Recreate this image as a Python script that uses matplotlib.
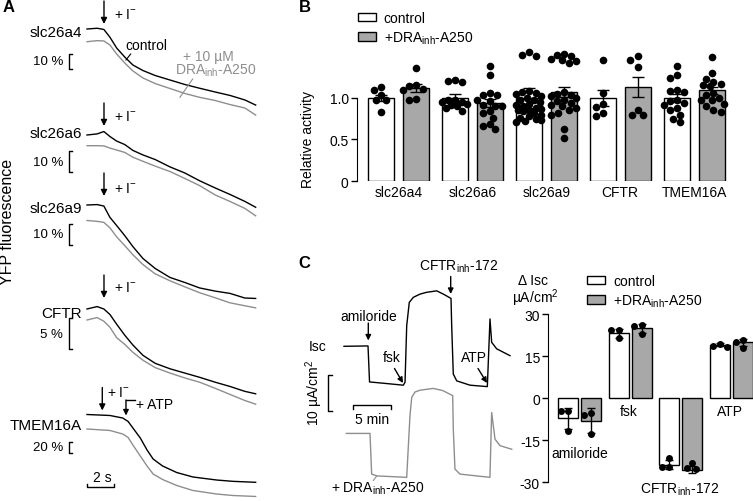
import matplotlib
matplotlib.use('Agg')
import numpy as np
import matplotlib.pyplot as plt
from matplotlib.patches import Patch

plt.rcParams['font.family'] = 'Liberation Sans'
plt.rcParams['mathtext.fontset'] = 'custom'
plt.rcParams['mathtext.rm'] = 'Liberation Sans'
plt.rcParams['mathtext.it'] = 'Liberation Sans:italic'
plt.rcParams['mathtext.bf'] = 'Liberation Sans:bold'
plt.rcParams['axes.unicode_minus'] = False

# ---- panel A: YFP quenching traces (change in fluorescence, %) ----
t_a = [0, 0.75, 1.25, 1.7, 2.2, 2.8, 3.4, 4.15, 5.05, 6.15, 7.25, 8.35, 9.5, 10.6, 11.7, 12.5]
a4_ctrl = [0, 0.5, -0.3, -5.5, -12.7, -18.7, -24, -27.7, -31, -34, -37, -39.5, -42, -44.3, -47.3, -50.7]
a4_dra = [0, 0.7, 0.5, -2.2, -8.2, -14.2, -19.5, -24.2, -27.9, -31.2, -34.5, -37.1, -39.2, -41.9, -44.2, -48.9]
a6_ctrl = [0, 0.5, 1.6, -0.7, -2.8, -4.4, -7.1, -9.2, -11.3, -14.7, -17.5, -21.1, -24.4, -27.4, -30.6, -33.3]
a6_dra = [0, 0, -0.1, -1.1, -2, -3.1, -5.3, -7.2, -9.4, -11.9, -15.1, -18.4, -22.7, -25.7, -28.9, -32.3]
a9_ctrl = [0, 0.2, -0.5, -5.9, -9.8, -14.6, -19.8, -25.5, -30.2, -34.5, -36.9, -39.5, -41, -42.1, -44.3, -44.5]
a9_dra = [0, -0.4, -0.9, -3.5, -7.8, -12, -16.3, -21, -25.4, -28.7, -31.6, -34.4, -36.8, -39.2, -40.6, -41.6]
cftr_ctrl = [0, 0.4, 0, -0.9, -2.5, -4.3, -5.9, -7.6, -8.9, -9.8, -10.5, -11.2, -12, -12.7, -13.5, -13.9]
cftr_dra = [0, 0.4, -0.2, -1.2, -2.9, -4, -5.3, -6.6, -7.8, -8.7, -9.5, -10.2, -11.2, -12.2, -13.2, -13.8]
t_tmem = [0, 1.7, 2.65, 3.05, 3.4, 3.95, 4.45, 4.9, 5.6, 6.65, 7.85, 9.6, 10.8, 12.5]
tmem_ctrl = [0, -1.8, -6.4, -12.7, -24.5, -42.7, -64.5, -80.9, -93.6, -105.5, -113.6, -119.1, -121.5, -123.3]
tmem_dra = [0, -2.7, -9.1, -15.5, -29.1, -49.1, -67.3, -81.8, -91.8, -102.7, -111.8, -118.2, -120.9, -122.7]

rows = ['slc26a4', 'slc26a6', 'slc26a9', 'CFTR', 'TMEM16A']
scale_pct = [10, 10, 10, 5, 20]

# ---- panel B: relative activity ----
genes = ['slc26a4', 'slc26a6', 'slc26a9', 'CFTR', 'TMEM16A']
b_ctrl_mean = [1.0, 1.0, 1.0, 1.0, 1.0]
b_ctrl_sem = [0.04, 0.05, 0.12, 0.10, 0.05]
b_dra_mean = [1.12, 0.94, 1.07, 1.13, 1.09]
b_dra_sem = [0.05, 0.05, 0.06, 0.12, 0.04]
b_ctrl_pts = [
    [1.13, 1.10, 1.04, 0.98, 0.97, 0.83],
    [1.22, 1.19, 1.20, 0.95, 0.98, 0.97, 0.92, 0.88, 0.84, 0.93, 0.90, 0.95],
    [1.52, 1.55, 1.50, 1.08, 1.06, 1.07, 1.05, 1.02, 1.00, 0.98, 0.97, 0.95, 0.93, 0.92,
     0.90, 0.88, 0.87, 0.85, 0.84, 0.82, 0.80, 0.78, 0.76, 0.75, 0.73, 0.72, 0.71, 0.86],
    [1.46, 1.06, 0.93, 0.89, 0.82, 0.78],
    [1.38, 1.28, 1.24, 1.09, 1.08, 1.07, 0.96, 0.94, 0.92, 0.88, 0.86, 0.80, 0.75, 0.71, 0.98],
]
b_dra_pts = [
    [1.36, 1.15, 1.14, 1.11, 1.10, 0.99, 0.97],
    [1.38, 1.28, 1.06, 1.03, 1.04, 0.98, 0.96, 0.92, 0.90, 0.90, 0.84, 0.82, 0.76, 0.68, 0.62, 0.66],
    [1.53, 1.52, 1.50, 1.47, 1.45, 1.44, 1.42, 1.07, 1.05, 1.04, 1.02, 1.00, 0.98, 0.96,
     0.94, 0.92, 0.90, 0.88, 0.85, 0.82, 0.80, 0.63, 0.52],
    [1.45, 1.50, 1.37, 0.86, 0.79, 0.79],
    [1.49, 1.30, 1.23, 1.17, 1.14, 1.15, 1.19, 1.06, 1.04, 1.00, 0.97, 0.97, 0.93, 0.90, 0.83, 0.86],
]

# ---- panel C: Isc traces (min, uA/cm2) ----
isc_t_ctrl = [0, 3.16, 3.36, 5.39, 7.8, 8.03, 8.25, 8.59, 9.12, 10.0, 10.88, 12.2, 13.07, 14.08,
              14.17, 14.38, 14.83, 16.58, 18.86, 19.21, 19.43, 20.09, 21.84]
isc_ctrl = [10.0, 10.1, 0.1, -0.3, -0.8, 0.0, 15.7, 22.2, 23.6, 24.5, 25.0, 25.4, 24.5, 23.3,
            15.7, 2.3, 0.4, -0.8, -1.2, 17.6, 11.1, 9.3, 7.4]
isc_t_dra = [0.3, 3.42, 3.64, 4.3, 8.25, 8.68, 8.91, 9.34, 10.0, 11.75, 13.0, 14.3, 14.38, 14.6,
             15.26, 19.2, 19.43, 19.87, 20.53, 22.07]
isc_dra = [11.3, 11.3, 0.0, -0.5, -0.9, 16.2, 21.3, 22.8, 23.3, 23.8, 23.2, 21.8, 12.5, 1.4,
           0.0, -0.9, 17.1, 9.7, 7.9, 6.9]

c_groups = ['amiloride', 'fsk', 'CFTR$_{\\rm inh}$-172', 'ATP']
c_ctrl_mean = [-7.1, 23.3, -23.8, 19.2]
c_ctrl_sd = [3.7, 1.6, 1.6, 0.5]
c_dra_mean = [-8.0, 25.0, -25.5, 20.0]
c_dra_sd = [4.4, 1.5, 1.2, 1.2]
c_ctrl_pts = [[-4.4, -4.4, -11.6], [24.5, 24.5, 21.4], [-21.4, -24.6, -24.6], [19.4, 18.4, 18.8]]
c_dra_pts = [[-5.2, -6.0, -12.8], [26.2, 25.7, 23.0], [-23.1, -25.2, -25.0], [20.9, 20.2, 18.0]]

GRAY_LINE = '#8e8e8e'
GRAY_BAR = '#a8a8a8'
W, H = 753, 502

fig = plt.figure(figsize=(W / 100, H / 100), dpi=100)


def px_axes(x0, y0, x1, y1):
    # axes from pixel box (y measured from top)
    ax = fig.add_axes([x0 / W, 1 - y1 / H, (x1 - x0) / W, (y1 - y0) / H])
    ax.patch.set_visible(False)
    return ax


def swarm(vals, ppu, max_px, d=7.2):
    # simple beeswarm offsets in pixels
    cands = sorted([k * 1.8 for k in range(-8, 9)], key=abs)
    order = sorted(range(len(vals)), key=lambda k: -vals[k])
    placed = []
    offs = [0.0] * len(vals)
    for k in order:
        y = vals[k] * ppu
        best, best_d = 0.0, -1
        for c in cands:
            if abs(c) > max_px:
                continue
            md = min([np.hypot(c - px, y - py) for px, py in placed] + [99])
            if md >= d:
                best = c
                break
            if md > best_d:
                best, best_d = c, md
        offs[k] = best
        placed.append((best, y))
    return offs


# ================= panel A =================
traces = [(t_a, a4_ctrl, a4_dra), (t_a, a6_ctrl, a6_dra), (t_a, a9_ctrl, a9_dra),
          (t_a, cftr_ctrl, cftr_dra), (t_tmem, tmem_ctrl, tmem_dra)]
row_y0 = [30, 136, 206, 310, 415.5]
pct_px = [1.5, 2.17, 2.1, 6.1, 0.55]
gray_gap = [12.7, 10.7, 15.5, 11, 14.5]
scale_off = [32, 26.5, 29, 24.5, 33]
label_off = [3, -1.5, 3, 4, 10.5]
arrow_tip = [5, 9, 9, 11, 4]
itext_off = [15, 19, 17, 22, 22]
arrow_x = [104, 104, 104, 104, 102.3]
itext_x = [114, 114, 114, 114, 107.5]


def xs(px):
    return (px - 87) / 13.5


for i, name in enumerate(rows):
    y0, s = row_y0[i], pct_px[i]
    ax = px_axes(87, y0 - 40, 257, y0 + 100)
    ax.set_xlim(0, 12.6)
    ax.set_ylim(-100 / s, 40 / s)
    ax.axis('off')
    t, ctrl, dra = traces[i]
    ax.plot(t, ctrl, color='k', lw=1.0, clip_on=False)
    ax.plot(t, np.array(dra) - gray_gap[i] / s, color=GRAY_LINE, lw=1.0, clip_on=False)

    def dy(px):
        return -px / s

    ax.text(xs(82), dy(label_off[i]), name, ha='right', va='center', fontsize=11)
    yc = dy(scale_off[i])
    ax.text(xs(63), yc, f'{scale_pct[i]} %', ha='right', va='center', fontsize=9.5)
    h = scale_pct[i] / 2
    ax.plot([xs(72), xs(68.5), xs(68.5), xs(72)], [yc + h, yc + h, yc - h, yc - h],
            color='k', lw=1.0, clip_on=False)
    ax.annotate('', xy=(xs(arrow_x[i]), dy(-arrow_tip[i])),
                xytext=(xs(arrow_x[i]), dy(-arrow_tip[i] - 23)),
                arrowprops=dict(arrowstyle='-|>', color='k', lw=1.0, mutation_scale=9,
                                shrinkA=0, shrinkB=0), annotation_clip=False)
    ax.text(xs(itext_x[i]), dy(-itext_off[i]), '+ I$^{-}$', ha='left', va='center', fontsize=10)

    if i == 0:
        ax.text(xs(125), dy(16), 'control', ha='left', va='center', fontsize=10)
        ax.plot([xs(130.7), xs(126)], [dy(25), dy(31)], color='k', lw=0.8, clip_on=False)
        ax.text(xs(208), dy(26.5), '+ 10 µM', ha='center', va='center', fontsize=10,
                color=GRAY_LINE)
        ax.text(xs(216), dy(41), 'DRA$_{\\rm inh}$-A250', ha='center', va='center',
                fontsize=10, color=GRAY_LINE)
        ax.plot([xs(192.7), xs(180)], [dy(50), dy(68.3)], color=GRAY_LINE, lw=0.8,
                clip_on=False)
    if i == 4:
        ax.annotate('', xy=(xs(126), dy(1)), xytext=(xs(126), dy(-14.5)),
                    arrowprops=dict(arrowstyle='-|>', color='k', lw=1.0, mutation_scale=8,
                                    shrinkA=0, shrinkB=0), annotation_clip=False)
        ax.plot([xs(126), xs(135)], [dy(-14.5), dy(-14.5)], color='k', lw=1.0, clip_on=False)
        ax.text(xs(136.5), dy(-10.5), '+ ATP', ha='left', va='center', fontsize=10)
        # 2 s scale bar
        yb = dy(72)
        ax.plot([0, 0, 2, 2], [yb + 3 / s, yb, yb, yb + 3 / s], color='k', lw=1.0,
                clip_on=False)
        ax.text(1.1, dy(62.5), '2 s', ha='center', va='center', fontsize=10)

fig.text(3 / W, 1 - 8 / H, 'A', fontsize=12, fontweight='bold', va='center', ha='left')
fig.text(8 / W, 1 - 222 / H, 'YFP fluorescence', rotation=90, fontsize=11.5,
         ha='center', va='center')

# ================= panel B =================
axb = px_axes(357, 49, 740, 182)
axb.set_xlim(-0.56, 4.62)
axb.set_ylim(0, 1.6)
xb = np.arange(len(genes))
off_b, w_b = 0.236, 0.35
axb.bar(xb - off_b, b_ctrl_mean, w_b, color='white', edgecolor='k', lw=1.0, zorder=1)
axb.bar(xb + off_b, b_dra_mean, w_b, color=GRAY_BAR, edgecolor='k', lw=1.0, zorder=1)
axb.errorbar(xb - off_b, b_ctrl_mean, yerr=b_ctrl_sem, fmt='none', ecolor='k',
             elinewidth=1.0, capsize=4.5, capthick=1.0, zorder=2)
axb.errorbar(xb + off_b, b_dra_mean, yerr=b_dra_sem, fmt='none', ecolor='k',
             elinewidth=1.0, capsize=4.5, capthick=1.0, zorder=2)
for g in range(len(genes)):
    for pts, sign in ((b_ctrl_pts[g], -1), (b_dra_pts[g], 1)):
        o = swarm(pts, 83.0, 13)
        axb.plot(g + sign * off_b + np.array(o) / 74.0, pts, 'o', color='k', ms=5.5,
                 mec='none', zorder=3, clip_on=False)
for sp in ('top', 'right', 'bottom'):
    axb.spines[sp].set_visible(False)
axb.spines['left'].set_bounds(0, 1.0)
axb.set_yticks([0, 0.5, 1.0])
axb.set_yticklabels(['0', '0.5', '1.0'])
axb.set_xticks(xb)
axb.set_xticklabels(genes)
axb.tick_params(axis='y', length=4, width=1, labelsize=10, pad=2)
axb.tick_params(axis='x', length=0, labelsize=10, pad=3)
axb.set_ylabel('Relative activity', fontsize=10, labelpad=6)
axb.yaxis.set_label_coords(-42 / 383, 0.32)
legb = axb.legend([Patch(facecolor='white', edgecolor='k', lw=1.0),
                   Patch(facecolor=GRAY_BAR, edgecolor='k', lw=1.0)],
                  ['control', '+DRA$_{\\rm inh}$-A250'], loc='upper left',
                  bbox_to_anchor=(357.5 / W, 1 - 12 / H), bbox_transform=fig.transFigure,
                  frameon=False, fontsize=10, handlelength=1.33, handleheight=0.58,
                  handletextpad=0.55, labelspacing=0.3, borderpad=0, borderaxespad=0)
fig.text(299 / W, 1 - 8 / H, 'B', fontsize=12, fontweight='bold', va='center', ha='left')

# ================= panel C traces =================
axt = px_axes(300, 255, 515, 500)
axt.set_xlim((300 - 344) / 7.6, (515 - 344) / 7.6)
axt.set_ylim((383.3 - 500) / 3.6, (383.3 - 255) / 3.6)
axt.axis('off')
axt.plot(isc_t_ctrl, isc_ctrl, color='k', lw=1.0)
axt.plot(isc_t_dra, np.array(isc_dra) - 25.5, color=GRAY_LINE, lw=1.0)


def tc(px):
    return (px - 344) / 7.6


def ic(py):
    return (383.3 - py) / 3.6


arrow_kw = dict(arrowstyle='-|>', color='k', lw=1.0, mutation_scale=8, shrinkA=0, shrinkB=0)
axt.text(tc(318), ic(347), 'Isc', ha='center', va='center', fontsize=10)
axt.text(tc(369), ic(317), 'amiloride', ha='center', va='center', fontsize=10)
axt.annotate('', xy=(tc(368.3), ic(341.5)), xytext=(tc(368.3), ic(324)), arrowprops=arrow_kw)
axt.text(tc(459), ic(266.5), 'CFTR$_{\\rm inh}$-172', ha='center', va='center', fontsize=10)
axt.annotate('', xy=(tc(450.7), ic(295)), xytext=(tc(450.7), ic(277.5)), arrowprops=arrow_kw)
axt.text(tc(391.7), ic(358), 'fsk', ha='center', va='center', fontsize=10)
axt.annotate('', xy=(tc(403), ic(384)), xytext=(tc(394.5), ic(369.5)), arrowprops=arrow_kw)
axt.text(tc(473.7), ic(358.5), 'ATP', ha='center', va='center', fontsize=10)
axt.annotate('', xy=(tc(487), ic(384)), xytext=(tc(478), ic(369.5)), arrowprops=arrow_kw)
# scale bars
axt.plot([tc(332), tc(328.3), tc(328.3), tc(332)], [ic(375.7), ic(375.7), ic(411.7), ic(411.7)],
         color='k', lw=1.0)
axt.text(tc(314), ic(393), '10 µA/cm$^2$', rotation=90, ha='center', va='center', fontsize=10)
axt.plot([tc(352.7), tc(352.7), tc(390.7), tc(390.7)], [ic(409.5), ic(406), ic(406), ic(409.5)],
         color='k', lw=1.0)
axt.text(tc(371.7), ic(420), '5 min', ha='center', va='center', fontsize=10)
axt.text(tc(378), ic(489), '+ DRA$_{\\rm inh}$-A250', ha='center', va='center', fontsize=10)
axt.plot([tc(373.3), tc(376.7)], [ic(481.5), ic(477)], color=GRAY_LINE, lw=0.8)
fig.text(298 / W, 1 - 264 / H, 'C', fontsize=12, fontweight='bold', va='center', ha='left')

# ================= panel C bars =================
axc = px_axes(548.3, 309.7, 753, 488.9)
axc.set_xlim(-0.62, 3.43)
axc.set_ylim(-32, 32)
xc = np.arange(len(c_groups))
off_c, w_c = 0.228, 0.40
axc.bar(xc - off_c, c_ctrl_mean, w_c, color='white', edgecolor='k', lw=1.0, zorder=1)
axc.bar(xc + off_c, c_dra_mean, w_c, color=GRAY_BAR, edgecolor='k', lw=1.0, zorder=1)
axc.errorbar(xc - off_c, c_ctrl_mean, yerr=c_ctrl_sd, fmt='none', ecolor='k',
             elinewidth=1.0, capsize=3, capthick=1.0, zorder=2)
axc.errorbar(xc + off_c, c_dra_mean, yerr=c_dra_sd, fmt='none', ecolor='k',
             elinewidth=1.0, capsize=3, capthick=1.0, zorder=2)
for g in range(len(c_groups)):
    for pts, sign in ((c_ctrl_pts[g], -1), (c_dra_pts[g], 1)):
        o = swarm(pts, 2.8, 8, d=6.8)
        axc.plot(g + sign * off_c + np.array(o) / 50.5, pts, 'o', color='k', ms=5,
                 mec='none', zorder=3, clip_on=False)
for sp in ('top', 'right', 'bottom'):
    axc.spines[sp].set_visible(False)
axc.spines['left'].set_bounds(-30, 30)
axc.set_yticks([-30, -15, 0, 15, 30])
axc.set_xticks([])
axc.tick_params(axis='y', length=4, width=1, labelsize=10, pad=2)
label_y = [-19.5, -4.5, -32.3, -4.7]
label_x = [0, 0.98, 1.98, 2.97]
for g in range(len(c_groups)):
    axc.text(label_x[g], label_y[g], c_groups[g], ha='center', va='center', fontsize=10,
             clip_on=False)
fig.text(533 / W, 1 - 281 / H, 'Δ Isc', ha='center', va='center', fontsize=10)
fig.text(535 / W, 1 - 298.5 / H, 'µA/cm$^2$', ha='center', va='center', fontsize=10)
axc.legend([Patch(facecolor='white', edgecolor='k', lw=1.0),
            Patch(facecolor=GRAY_BAR, edgecolor='k', lw=1.0)],
           ['control', '+DRA$_{\\rm inh}$-A250'], loc='upper left',
           bbox_to_anchor=(587 / W, 1 - 275 / H), bbox_transform=fig.transFigure,
           frameon=False, fontsize=10, handlelength=1.33, handleheight=0.58,
           handletextpad=0.55, labelspacing=0.3, borderpad=0, borderaxespad=0)

fig.savefig('out.png', dpi=100)
